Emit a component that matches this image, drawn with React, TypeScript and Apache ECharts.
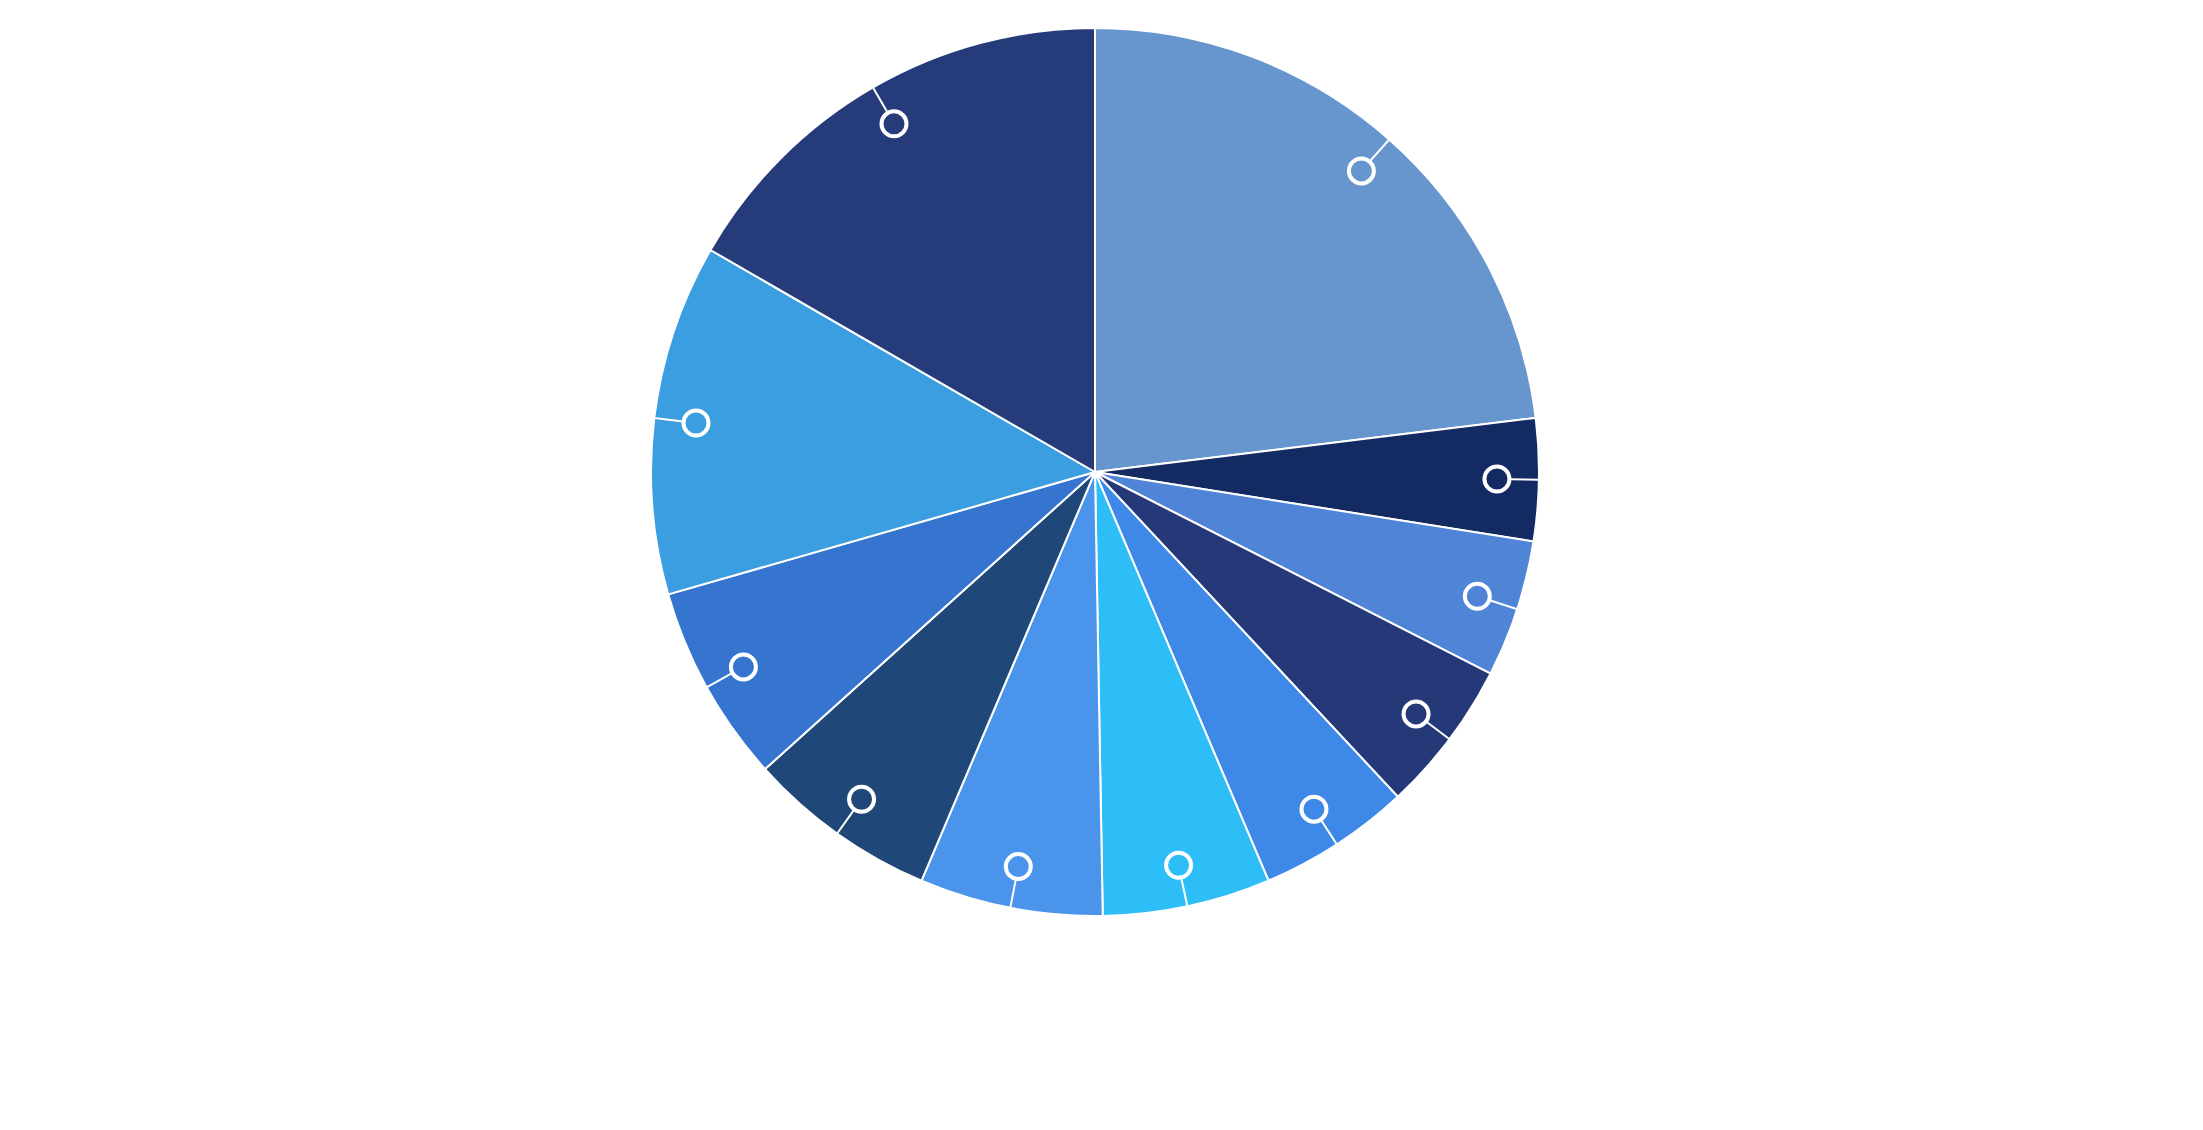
import React, { useEffect, useRef } from 'react';
import * as echarts from 'echarts';

// slice data, clockwise from 12 o'clock
const categories = ['A', 'B', 'C', 'D', 'E', 'F', 'G', 'H', 'I', 'J', 'K'];
const values = [83, 16, 18, 20, 20, 22, 24, 25, 26, 46, 60];
const colors = [
  '#6796ce', '#142a63', '#5084d7', '#253877', '#3e88e7', '#2dbef8',
  '#4b94ec', '#1f4878', '#3675cf', '#3a9ee0', '#263b79'
];

const CENTER = [1095, 472];
const RADIUS = 444;

// marker sits inside the slice, joined to the rim by a short radial line
const markerLayout = (params: any) => {
  const p0 = params.labelLinePoints ? params.labelLinePoints[0] : null;
  if (!p0) return {};
  const vx = p0[0] - CENTER[0];
  const vy = p0[1] - CENTER[1];
  const len = Math.sqrt(vx * vx + vy * vy) || 1;
  const dx = vx / len;
  const dy = vy / len;
  const end = [p0[0] - dx * 29, p0[1] - dy * 29];
  return {
    x: p0[0] - dx * 42,
    y: p0[1] - dy * 42,
    align: 'center',
    verticalAlign: 'middle',
    labelLinePoints: [[p0[0], p0[1]], end, end]
  };
};

const App: React.FC = () => {
  const chartRef = useRef<HTMLDivElement>(null);

  useEffect(() => {
    if (!chartRef.current) return;
    const chart = echarts.init(chartRef.current, undefined, { renderer: 'svg' });

    const option: echarts.EChartsOption = {
      animation: false,
      backgroundColor: '#ffffff',
      series: [
        {
          type: 'pie',
          center: CENTER,
          radius: RADIUS,
          startAngle: 90,
          silent: true,
          label: { show: false },
          labelLine: { show: false },
          itemStyle: { borderColor: '#ffffff', borderWidth: 2 },
          data: categories.map((name, i) => ({
            name,
            value: values[i],
            itemStyle: { color: colors[i] }
          }))
        },
        {
          // transparent copy on top that carries the markers
          type: 'pie',
          z: 5,
          center: CENTER,
          radius: RADIUS,
          startAngle: 90,
          silent: true,
          avoidLabelOverlap: false,
          itemStyle: { color: 'rgba(0,0,0,0)', borderWidth: 0 },
          label: {
            show: true,
            position: 'outside',
            formatter: ' ',
            width: 25,
            height: 25,
            lineHeight: 25,
            padding: 0,
            borderRadius: 13,
            borderColor: '#ffffff',
            borderWidth: 2,
            backgroundColor: 'rgba(0,0,0,0)'
          },
          labelLine: {
            show: true,
            length: 10,
            length2: 0,
            lineStyle: { color: '#ffffff', width: 2 }
          },
          labelLayout: markerLayout,
          data: categories.map((name, i) => ({ name, value: values[i] }))
        }
      ]
    };

    chart.setOption(option);

    return () => {
      chart.dispose();
    };
  }, []);

  return (
    <div
      ref={chartRef}
      style={{ position: 'fixed', left: 0, top: 0, width: '2203px', height: '1130px' }}
    />
  );
};

export default App;
